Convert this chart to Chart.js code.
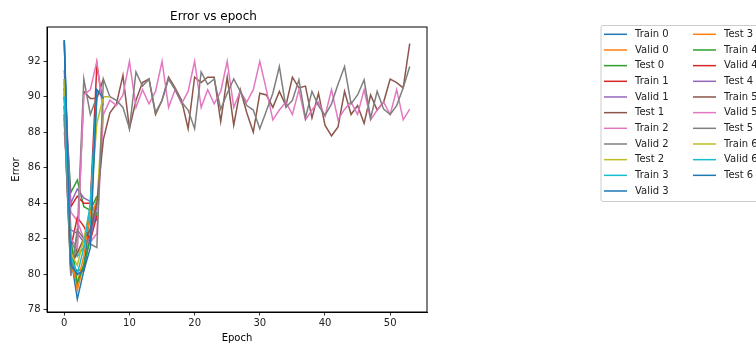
<!DOCTYPE html>
<html>
<head>
<meta charset="utf-8">
<script src="https://cdn.jsdelivr.net/npm/chart.js@4.4.0/dist/chart.umd.min.js"></script>
<style>
  html, body { margin: 0; padding: 0; background: #fff; overflow: hidden; }
  canvas { display: block; }
</style>
</head>
<body>
<canvas id="errChart" width="756" height="348"></canvas>
<script>
const ctx = document.getElementById('errChart').getContext('2d');

// tab10 colour cycle (matplotlib default)
const colors = ['#1f77b4', '#ff7f0e', '#2ca02c', '#d62728', '#9467bd',
                '#8c564b', '#e377c2', '#7f7f7f', '#bcbd22', '#17becf'];

const xTicks = [0, 10, 20, 30, 40, 50];
const yTicks = [78, 80, 82, 84, 86, 88, 90, 92];

// short runs
const train0 = [93.2, 81.0, 78.6, 80.2, 82.3, 84.0];
const valid0 = [91.0, 81.5, 79.1, 80.6, 82.7, 84.3];
const test0  = [90.2, 84.6, 85.3, 83.8, 83.6, 84.4];
const train1 = [90.0, 83.8, 84.4, 84.0, 84.0, 91.8, 89.5];
const valid1 = [91.5, 84.0, 84.8, 84.3, 84.1, 83.0];
const test1  = [89.0, 80.2, 81.5, 90.3, 89.9, 89.9, 91.0];
const train2 = [88.0, 83.5, 83.0, 82.0, 81.8, 82.3, 89.0];
const valid2 = [89.0, 79.9, 82.3, 91.0, 89.0, 90.0];
const test2  = [91.0, 81.2, 81.2, 81.5, 83.2, 83.8, 90.0];
const train3 = [90.5, 82.0, 81.0, 81.5, 82.5, 90.0];
const valid3 = [93.1, 80.5, 80.2, 80.3, 83.8, 90.4];
const test3  = [90.8, 80.5, 79.5, 81.0, 83.5, 84.0];
const train4 = [90.0, 82.0, 79.5, 80.5, 82.0, 83.5];
const valid4 = [89.5, 81.5, 83.2, 82.7, 81.9, 83.3];
const test4  = [90.5, 82.5, 82.3, 81.8, 82.0, 83.8];

// long run
const train5 = [89.5, 80.5, 81.2, 82.0, 82.5, 84.0, 87.6, 89.1, 89.6, 91.2,
                88.2, 89.8, 90.8, 91.0, 89.0, 89.8, 91.1, 90.5, 89.8, 88.2,
                91.1, 90.8, 91.1, 91.1, 88.6, 91.1, 88.4, 90.4, 89.1, 88.0,
                90.2, 90.1, 89.4, 90.3, 89.5, 91.1, 90.5, 90.6, 88.8, 90.2,
                88.4, 87.8, 88.3, 90.3, 89.0, 89.5, 88.5, 90.1, 89.25, 89.7,
                91.0, 90.8, 90.5, 93.0];
const valid5 = [88.5, 82.0, 81.5, 90.1, 90.4, 92.0, 89.0, 89.8, 89.5, 90.1,
                92.0, 89.4, 90.4, 89.6, 90.3, 92.0, 89.4, 90.4, 89.6, 90.3,
                92.0, 89.4, 90.4, 89.6, 90.3, 92.0, 89.4, 90.3, 89.7, 90.4,
                92.0, 90.4, 88.7, 89.25, 89.7, 89.0, 90.4, 88.7, 89.25, 89.7,
                88.9, 90.4, 88.7, 89.3, 89.7, 89.0, 90.4, 88.7, 89.25, 89.7,
                89.0, 90.4, 88.7, 89.3];
const test5  = [88.8, 80.0, 82.5, 82.0, 81.7, 81.5, 91.0, 90.0, 89.8, 89.4,
                88.2, 91.4, 90.6, 91.0, 89.1, 89.8, 91.0, 90.4, 89.7, 89.25,
                88.2, 91.4, 90.7, 91.0, 89.3, 90.2, 91.0, 90.3, 89.5, 89.25,
                88.2, 89.2, 90.2, 91.7, 89.4, 89.8, 90.95, 88.8, 90.3, 89.5,
                88.95, 89.6, 90.7, 91.7, 89.6, 90.1, 90.95, 88.8, 90.3, 89.3,
                89.0, 89.5, 90.5, 91.7];

const train6 = [91.0, 81.2, 80.5, 82.0, 83.8, 88.5, 90.0, 90.0];
const valid6 = [90.0, 81.0, 80.0, 81.5, 84.0, 90.0];
const test6  = [93.2, 80.5, 80.0, 80.2, 81.5, 90.4, 89.9];

const names = ['Train 0', 'Valid 0', 'Test 0', 'Train 1', 'Valid 1', 'Test 1',
               'Train 2', 'Valid 2', 'Test 2', 'Train 3', 'Valid 3', 'Test 3',
               'Train 4', 'Valid 4', 'Test 4', 'Train 5', 'Valid 5', 'Test 5',
               'Train 6', 'Valid 6', 'Test 6'];
const series = [train0, valid0, test0, train1, valid1, test1, train2, valid2, test2,
                train3, valid3, test3, train4, valid4, test4, train5, valid5, test5,
                train6, valid6, test6];

const FONT = "'DejaVu Sans', sans-serif";

const datasets = series.map((vals, i) => ({
  label: names[i],
  data: vals.map((v, ep) => ({ x: ep, y: v })),
  borderColor: colors[i % 10],
  backgroundColor: colors[i % 10],
  borderWidth: 1.5,
  pointRadius: 0,
  tension: 0,
  fill: false,
  order: -i   // later series drawn on top, like matplotlib
}));

// frame + matplotlib style legend
const framePlugin = {
  id: 'frame',
  afterDraw(chart) {
    const c = chart.ctx;
    const a = chart.chartArea;
    c.save();
    c.strokeStyle = '#000';
    c.lineWidth = 1;
    c.strokeRect(a.left, a.top, a.right - a.left, a.bottom - a.top);

    // legend
    const bx = 601, by = 25.5, bh = 176;
    c.fillStyle = 'rgba(255,255,255,0.8)';
    c.strokeStyle = '#cccccc';
    c.beginPath();
    c.roundRect(bx, by, 200, bh, 2);
    c.fill();
    c.stroke();

    c.font = '10px ' + FONT;
    c.textBaseline = 'middle';
    c.textAlign = 'left';
    const rows = 11, rowH = 15.67;
    names.forEach((n, i) => {
      const col = Math.floor(i / rows);
      const row = i % rows;
      const lx = col === 0 ? 604 : 693;
      const y = 34.3 + row * rowH;
      c.strokeStyle = colors[i % 10];
      c.lineWidth = 1.5;
      c.beginPath();
      c.moveTo(lx, y);
      c.lineTo(lx + 23, y);
      c.stroke();
      c.fillStyle = '#222';
      c.fillText(n, lx + 31, y);
    });
    c.restore();
  }
};

const chart = new Chart(ctx, {
  type: 'line',
  data: { datasets: datasets },
  options: {
    responsive: false,
    animation: false,
    events: [],
    layout: { padding: { left: 0, right: 329, top: 0, bottom: 0 } },
    plugins: {
      legend: { display: false },
      tooltip: { enabled: false },
      title: {
        display: true,
        text: 'Error vs epoch',
        color: '#000',
        font: { family: FONT, size: 12, weight: 'normal' },
        padding: { top: 9.5, bottom: 3.1 }
      }
    },
    scales: {
      x: {
        type: 'linear',
        min: -2.65,
        max: 55.65,
        afterFit: s => { s.height = 36; },
        afterBuildTicks: s => { s.ticks = xTicks.map(v => ({ value: v })); },
        grid: { drawOnChartArea: false, drawTicks: true, tickLength: 3.5, color: '#000', lineWidth: 0.8 },
        border: { display: true, color: '#000' },
        ticks: { color: '#222', padding: 2, maxRotation: 0, font: { family: FONT, size: 10 } },
        title: {
          display: true, text: 'Epoch', color: '#000',
          font: { family: FONT, size: 10 },
          padding: { top: 0, bottom: 4 }
        }
      },
      y: {
        min: 77.87,
        max: 93.93,
        afterFit: s => { s.width = 47; },
        afterBuildTicks: s => { s.ticks = yTicks.map(v => ({ value: v })); },
        grid: { drawOnChartArea: false, drawTicks: true, tickLength: 3.5, color: '#000', lineWidth: 0.8 },
        border: { display: true, color: '#000' },
        ticks: { color: '#222', padding: 3, font: { family: FONT, size: 10 } },
        title: {
          display: true, text: 'Error', color: '#000',
          font: { family: FONT, size: 10 },
          padding: { top: 10, bottom: 0 }
        }
      }
    }
  },
  plugins: [framePlugin]
});
</script>
</body>
</html>
